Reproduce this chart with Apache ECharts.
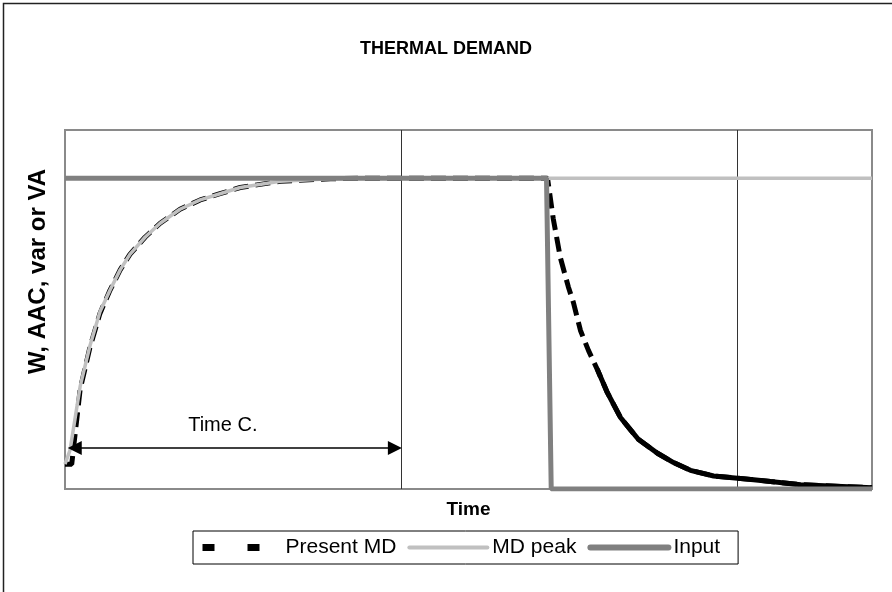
<!DOCTYPE html>
<html><head><meta charset="utf-8">
<script src="https://cdn.jsdelivr.net/npm/echarts@6/dist/echarts.min.js"></script>
<style>html,body{margin:0;padding:0;background:#fff}#c{width:892px;height:592px}</style>
</head><body><div id="c"></div>
<script>
// ---- data (time units, demand units; input level = 100) ----
const presentMdT = [0, 2, 4.5, 7.4, 10.4, 13.4, 16.4, 19.3, 23.8, 28.3, 34.2, 40.2, 46.1, 52.1, 64, 79, 88,
  143.5, 145.2, 147.3, 149.7, 151.2, 153.3, 155.7, 158.3, 161.3, 165.2, 168.2, 170.5, 176.2, 181, 186, 192.9, 204.8, 209.8, 218.8, 240];
const presentMdV = [8, 8, 32, 45.5, 56.5, 64, 70.5, 75.5, 81, 85.5, 90, 93, 95, 97, 99, 99.8, 100,
  100, 87, 74.5, 65, 60, 51, 44.5, 38.5, 31, 23, 19, 16, 11.5, 8.5, 6, 4.2, 3, 2.4, 1.4, 0.4];
const mdPeakT = [0, 1.5, 4.5, 7.4, 10.4, 13.4, 16.4, 19.3, 23.8, 28.3, 34.2, 40.2, 46.1, 52.1, 64, 79, 88, 240];
const mdPeakV = [8, 12.5, 33, 46, 57, 64, 70.5, 75.5, 81, 85.5, 90, 93, 95, 97, 99, 99.8, 100, 100];
const inputT = [0, 143.2, 144.6, 240];
const inputV = [100, 100, 0, 0];
const seriesNames = ['Present MD', 'MD peak', 'Input'];
const timeC = { label: 'Time C.', from: 2.9, to: 98.1, level: 13.2 };
const solidFrom = 158.3; // beyond this point the Present MD trace renders solid

const pairs = (T, V) => T.map((t, i) => [t, V[i]]);
const presentData = pairs(presentMdT, presentMdV);
const tailData = presentData.filter(p => p[0] >= solidFrom);

const FONT = '"Liberation Sans", Arial, sans-serif';
const chart = echarts.init(document.getElementById('c'));
chart.setOption({
  animation: false,
  textStyle: { fontFamily: FONT },
  title: { text: 'THERMAL DEMAND', left: 'center', top: 35,
    textStyle: { fontSize: 18, fontWeight: 'bold', color: '#000', fontFamily: FONT } },
  grid: { left: 65, right: 20, top: 130, bottom: 103, show: true, borderColor: '#8a8a8a', borderWidth: 2 },
  xAxis: { type: 'value', min: 0, max: 240, interval: 100,
    name: 'Time', nameLocation: 'middle', nameGap: 11,
    nameTextStyle: { fontWeight: 'bold', fontSize: 19, color: '#000', fontFamily: FONT },
    axisLine: { show: false }, axisTick: { show: false }, axisLabel: { show: false },
    splitLine: { show: true, showMinLine: false, showMaxLine: false, lineStyle: { color: '#333', width: 1 } } },
  yAxis: { type: 'value', min: 0, max: 115.5,
    name: 'W, AAC, var or VA', nameLocation: 'middle', nameGap: 15,
    nameTextStyle: { fontWeight: 'bold', fontSize: 24, color: '#000', fontFamily: FONT, padding: [0, 0, 0, 76] },
    axisLine: { show: false }, axisTick: { show: false }, axisLabel: { show: false }, splitLine: { show: false } },
  legend: {
    left: 193, top: 531, orient: 'horizontal',
    borderColor: '#000', borderWidth: 1, padding: [6, 18, 6, 6],
    itemGap: 11, itemWidth: 78, itemHeight: 14,
    itemStyle: { opacity: 0 },
    textStyle: { fontSize: 21, color: '#000', fontFamily: FONT },
    data: [
      { name: seriesNames[0], lineStyle: { type: [12, 33], width: 7, color: '#000', cap: 'butt' } },
      { name: seriesNames[1], lineStyle: { width: 4, color: '#c0c0c0', cap: 'round' } },
      { name: seriesNames[2], lineStyle: { width: 6, color: '#808080', cap: 'round' } }
    ]
  },
  series: [
    { name: seriesNames[0], type: 'line', data: presentData, symbol: 'circle', showSymbol: false,
      lineStyle: { color: '#000', width: 5, type: [15, 7], cap: 'butt' }, itemStyle: { color: '#000' }, z: 2,
      markLine: { silent: true, symbol: ['triangle', 'triangle'], symbolSize: 14,
        lineStyle: { color: '#000', width: 1.5, type: 'solid' },
        label: { show: true, formatter: timeC.label, position: 'insideMiddleTop', distance: 12,
          color: '#000', fontSize: 20, fontFamily: FONT, offset: [-12, 0] },
        data: [[{ coord: [timeC.from, timeC.level] }, { coord: [timeC.to, timeC.level] }]] } },
    { name: seriesNames[0] + ' ', type: 'line', data: tailData, symbol: 'none',
      lineStyle: { color: '#000', width: 5, type: 'solid' }, z: 2 },
    { name: seriesNames[1], type: 'line', data: pairs(mdPeakT, mdPeakV), symbol: 'circle', showSymbol: false,
      lineStyle: { color: '#c0c0c0', width: 3.5 }, itemStyle: { color: '#c0c0c0' }, z: 3 },
    { name: seriesNames[2], type: 'line', data: pairs(inputT, inputV), symbol: 'circle', showSymbol: false,
      lineStyle: { color: '#808080', width: 5 }, itemStyle: { color: '#808080' }, z: 4 }
  ],
  graphic: [{ type: 'rect', shape: { x: 3.5, y: 3.5, width: 1000, height: 1000 },
    style: { fill: 'none', stroke: '#222', lineWidth: 1.5 }, silent: true, z: -10 }]
});
</script></body></html>
